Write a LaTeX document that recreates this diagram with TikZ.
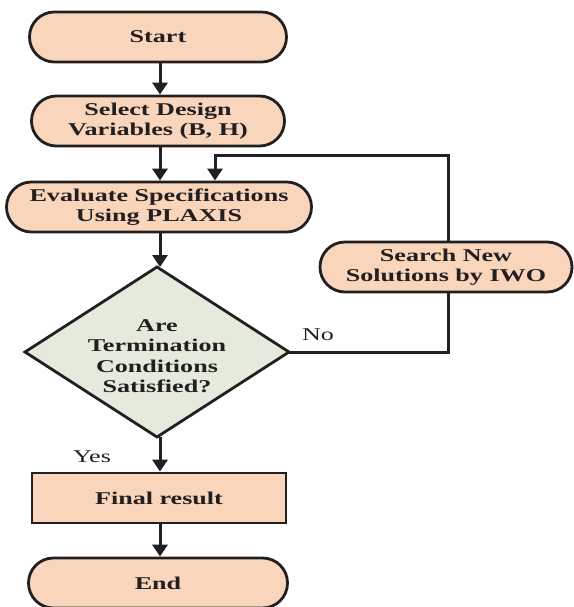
\documentclass[tikz,border=0pt]{standalone}
\usepackage{fontspec}
\setmainfont{Liberation Serif}[FakeStretch=1.45]
\usetikzlibrary{arrows.meta}
\definecolor{peach}{HTML}{F9D6BB}
\definecolor{sage}{HTML}{E4EBDC}
\definecolor{ink}{HTML}{231F20}
\tikzset{
  base/.style={draw=ink, line width=2.8pt, text=ink, font=\fontsize{18}{19.5}\selectfont\bfseries, align=center, inner sep=0pt},
  term/.style={base, fill=peach, rectangle, rounded corners=24.9pt, minimum height=50pt},
  procbox/.style={base, fill=peach, rectangle, minimum height=50pt},
  decidetext/.style={text=ink, font=\fontsize{18}{20.5}\selectfont\bfseries, align=center, inner sep=0pt},
  decideshape/.style={draw=ink, line width=2.8pt, fill=sage, line join=miter},
  flow/.style={draw=ink, line width=3pt, -{Triangle[width=15pt,length=12pt]}},
  plain/.style={draw=ink, line width=3pt},
  lbl/.style={text=ink, font=\fontsize{18}{19}\selectfont, inner sep=0pt}
}
\begin{document}
\begin{tikzpicture}[x=1pt,y=-1pt]
\useasboundingbox (0,0) rectangle (573,607);
\node[term, minimum width=257pt] (start) at (158,37) {Start};
\node[term, minimum width=253pt] (sel) at (158,121) {Select Design\\Variables (B, H)};
\node[term, minimum width=305pt] (eval) at (159,207) {Evaluate Specifications\\Using PLAXIS};
\coordinate (dtop) at (157,267);
\coordinate (dright) at (289,352);
\coordinate (dbot) at (157,437);
\coordinate (dleft) at (25,352);
\draw[decideshape] (dtop) -- (dright) -- (dbot) -- (dleft) -- cycle;
\node[decidetext] (dia) at (157,356) {Are\\Termination\\Conditions\\Satisfied?};
\node[procbox, minimum width=254pt] (fin) at (159,498) {Final result};
\node[term, minimum width=259pt] (end) at (158,583) {End};
\node[term, minimum width=252pt] (srch) at (446,267) {Search New\\Solutions by IWO};
\node[lbl] (no) at (318,335) {No};
\node[lbl] (yes) at (92,457) {Yes};
\coordinate (fb) at (215,155);
\coordinate (rt) at (448,352);
\draw[flow] (start.south -| 160,0) -- (sel.north -| 160,0);
\draw[flow] (sel.south -| 160,0) -- (eval.north -| 160,0);
\draw[flow] (eval.south -| 160,0) -- (dtop -| 160,0);
\draw[flow] (dbot -| 160,0) -- (fin.north -| 160,0);
\draw[flow] (fin.south -| 160,0) -- (end.north -| 160,0);
\draw[plain] (dright) -- (rt) -- (rt |- srch.south);
\draw[flow] (rt |- srch.north) -- (rt |- fb) -- (fb) -- (fb |- eval.north);
\end{tikzpicture}
\end{document}
